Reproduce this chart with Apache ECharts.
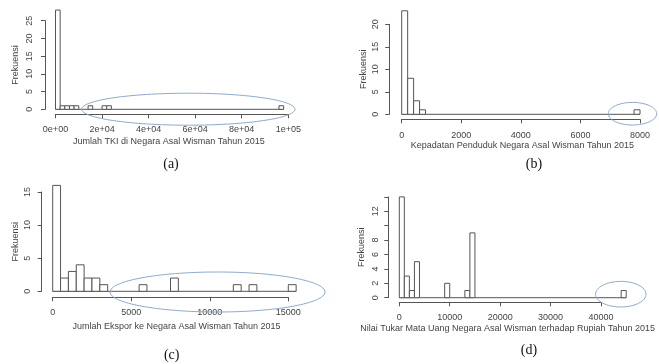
<!DOCTYPE html>
<html>
<head>
<meta charset="utf-8">
<script src="https://cdn.jsdelivr.net/npm/echarts@6/dist/echarts.min.js"></script>
<style>
  html, body { margin: 0; padding: 0; background: #fff; }
  #chart { width: 659px; height: 364px; }
</style>
</head>
<body>
<div id="chart"></div>
<script>
  // histogram bins that are not empty: left break, count (the rest of the bins are 0)
  const aStart = [0, 2000, 4000, 6000, 8000, 14000, 20000, 22000, 96000]
  const aCount = [28, 1, 1, 1, 1, 1, 1, 1, 1]
  const aWidth = 2000

  const bStart = [0, 200, 400, 600, 7800]
  const bCount = [23, 8, 3, 1, 1]
  const bWidth = 200

  const cStart = [0, 500, 1000, 1500, 2000, 2500, 3000, 5500, 7500, 11500, 12500, 15000]
  const cCount = [16, 2, 3, 4, 2, 2, 1, 1, 2, 1, 1, 1]
  const cWidth = 500

  const dStart = [0, 1000, 2000, 3000, 9000, 13000, 14000, 44000]
  const dCount = [14, 3, 1, 5, 2, 1, 9, 1]
  const dWidth = 1000

  const aXTicks = ['0e+00', '2e+04', '4e+04', '6e+04', '8e+04', '1e+05']
  const dYTicks = ['0', '2', '4', '6', '8', '', '12', '']

  const xTitles = [
    'Jumlah TKI di Negara Asal Wisman Tahun 2015',
    'Kepadatan Penduduk Negara Asal Wisman Tahun 2015',
    'Jumlah Ekspor ke Negara Asal Wisman Tahun 2015',
    'Nilai Tukar Mata Uang Negara Asal Wisman terhadap Rupiah Tahun 2015'
  ]
  const captions = ['(a)', '(b)', '(c)', '(d)']

  const ink = '#555'
  const txt = '#444'

  function bins(start, count, width) {
    return start.map((s, i) => [s, s + width, count[i]])
  }

  const panels = [
    { bins: bins(aStart, aCount, aWidth), xMax: 100000, xStep: 20000, yMax: 25, yStep: 5,
      grid: { left: 55.5, top: 20.7, width: 232.8, height: 88.6 }, xOff: 5, yOff: 10.5,
      xLab: v => aXTicks[v / 20000], yLab: v => v, xm: 11, ym: 11, xg: 23, yg: 25, pad: [0, 6, 0, 0] },
    { bins: bins(bStart, bCount, bWidth), xMax: 8000, xStep: 2000, yMax: 20, yStep: 5,
      grid: { left: 401.7, top: 24.3, width: 238.3, height: 90 }, xOff: 5, yOff: 12.4,
      xLab: v => v, yLab: v => v, xm: 12, ym: 9, xg: 22, yg: 21, pad: [0, 0, 0, 3] },
    { bins: bins(cStart, cCount, cWidth), xMax: 15000, xStep: 5000, yMax: 15, yStep: 5,
      grid: { left: 52.7, top: 192, width: 235.6, height: 99.3 }, xOff: 6, yOff: 11,
      xLab: v => v, yLab: v => v, xm: 11, ym: 10, xg: 25, yg: 22, pad: [0, 0, 0, 12] },
    { bins: bins(dStart, dCount, dWidth), xMax: 40000, xStep: 10000, yMax: 14, yStep: 2,
      grid: { left: 399.3, top: 196.9, width: 201.7, height: 100.8 }, xOff: 4.6, yOff: 11,
      xLab: v => v, yLab: v => dYTicks[v / 2], xm: 11, ym: 8, xg: 22, yg: 22, pad: [0, 0, 0, 15] }
  ]

  let option = {
    animation: false,
    backgroundColor: '#fff',
    textStyle: { fontFamily: 'Liberation Sans, Arial, sans-serif' },
    grid: [],
    xAxis: [],
    yAxis: [],
    series: [],
    graphic: []
  }

  panels.forEach((p, i) => {
    option.grid.push(Object.assign({ containLabel: false }, p.grid))
    option.xAxis.push({
      gridIndex: i,
      type: 'value',
      min: 0,
      max: p.xMax,
      interval: p.xStep,
      offset: p.xOff,
      name: xTitles[i],
      nameLocation: 'middle',
      nameGap: p.xg,
      nameTextStyle: { color: txt, fontSize: 9, padding: p.pad },
      axisLine: { show: true, onZero: false, lineStyle: { color: ink, width: 1 } },
      axisTick: { show: true, length: 4, lineStyle: { color: ink } },
      axisLabel: { color: txt, fontSize: 9, margin: p.xm, formatter: p.xLab, showMinLabel: true, showMaxLabel: true },
      splitLine: { show: false }
    })
    option.yAxis.push({
      gridIndex: i,
      type: 'value',
      min: 0,
      max: p.yMax,
      interval: p.yStep,
      offset: p.yOff,
      name: 'Frekuensi',
      nameLocation: 'middle',
      nameGap: p.yg,
      nameRotate: 90,
      nameTextStyle: { color: txt, fontSize: 9 },
      axisLine: { show: true, onZero: false, lineStyle: { color: ink, width: 1 } },
      axisTick: { show: true, length: 4, lineStyle: { color: ink } },
      axisLabel: { color: txt, fontSize: 9, margin: p.ym, rotate: 90, formatter: p.yLab },
      splitLine: { show: false }
    })
    // zero-height bins in R draw as a line along y = 0, from the first break to the last
    const first = p.bins[0][0]
    const last = p.bins[p.bins.length - 1][1]
    option.series.push({
      type: 'custom',
      xAxisIndex: i,
      yAxisIndex: i,
      clip: false,
      silent: true,
      data: [[first, last]],
      encode: { x: [0, 1] },
      renderItem: function (params, api) {
        const a = api.coord([api.value(0), 0])
        const b = api.coord([api.value(1), 0])
        return {
          type: 'line',
          shape: { x1: a[0], y1: a[1], x2: b[0], y2: b[1] },
          style: { stroke: ink, lineWidth: 1 }
        }
      }
    })
    option.series.push({
      type: 'custom',
      xAxisIndex: i,
      yAxisIndex: i,
      clip: false,
      data: p.bins,
      encode: { x: [0, 1], y: 2 },
      renderItem: function (params, api) {
        const p0 = api.coord([api.value(0), api.value(2)])
        const p1 = api.coord([api.value(1), 0])
        return {
          type: 'rect',
          shape: { x: p0[0], y: p0[1], width: p1[0] - p0[0], height: p1[1] - p0[1] },
          style: { fill: '#fff', stroke: ink, lineWidth: 1 }
        }
      }
    })
  })

  // blue ellipses drawn by hand round the outliers
  const rings = [
    { cx: 188.3, cy: 109.2, rx: 106.7, ry: 16 },
    { cx: 632.5, cy: 113.7, rx: 24.2, ry: 11.3 },
    { cx: 217.5, cy: 292, rx: 107.5, ry: 20 },
    { cx: 620.8, cy: 294.2, rx: 25.2, ry: 12.8 }
  ]
  rings.forEach(r => {
    option.graphic.push({
      type: 'ellipse',
      shape: r,
      style: { fill: 'none', stroke: '#8eaacb', lineWidth: 1 },
      z: 10,
      silent: true
    })
  })

  const capPos = [[171, 164], [534, 164], [171.7, 355], [529, 350]]
  captions.forEach((c, i) => {
    option.graphic.push({
      type: 'text',
      x: capPos[i][0],
      y: capPos[i][1],
      style: {
        text: c,
        fill: '#111',
        font: '14px "Liberation Serif", "DejaVu Serif", serif',
        align: 'center',
        verticalAlign: 'middle'
      }
    })
  })

  const dom = echarts.init(document.getElementById('chart'))
  dom.setOption(option)
</script>
</body>
</html>
